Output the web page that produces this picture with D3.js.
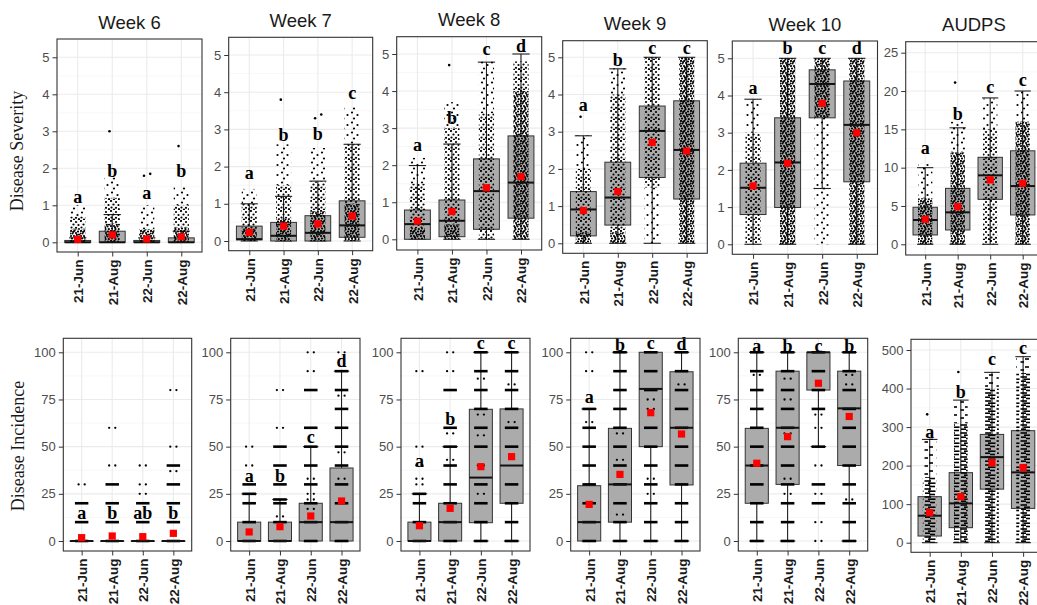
<!DOCTYPE html>
<html>
<head>
<meta charset="utf-8">
<script src="https://cdn.jsdelivr.net/npm/d3@7"></script>
<style>
  body { margin: 0; background: #fff; }
  svg { display: block; }
</style>
</head>
<body>
<div id="chart"></div>
<script>
// panels and groups
const weeks = ["Week 6", "Week 7", "Week 8", "Week 9", "Week 10", "AUDPS"];
const groups = ["21-Jun", "21-Aug", "22-Jun", "22-Aug"];

// tick labels
const dsTicks = [0, 1, 2, 3, 4, 5];
const dsAudpsTicks = [0, 5, 10, 15, 20, 25];
const diTicks = [0, 25, 50, 75, 100];
const diAudpsTicks = [0, 100, 200, 300, 400, 500];

// Disease Severity, [panel][group]
const dsQ1 = [[0, 0, 0, 0], [0.03, 0, 0, 0.1], [0, 0.07, 0.27, 0.57], [0.2, 0.49, 1.77, 1.19], [0.8, 0.99, 3.4, 1.68], [1.22, 1.87, 5.87, 3.83]];
const dsMed = [[0, 0, 0, 0], [0.05, 0.14, 0.22, 0.42], [0.41, 0.5, 1.3, 1.53], [0.91, 1.23, 3.02, 2.51], [1.52, 2.2, 4.31, 3.21], [3.17, 4.17, 9.0, 7.6]];
const dsQ3 = [[0.05, 0.3, 0.05, 0.12], [0.4, 0.5, 0.68, 1.08], [0.79, 1.06, 2.17, 2.79], [1.39, 2.18, 3.69, 3.83], [2.18, 3.4, 4.69, 4.39], [4.83, 7.3, 11.35, 12.2]];
const dsLo = [[0, 0, 0, 0], [0, 0, 0, 0], [0, 0, 0, 0], [0, 0, 0, 0], [0, 0, 1.5, 0], [0, 0, 0, 0]];
const dsHi = [[0.12, 0.75, 0.12, 0.3], [1.0, 1.2, 1.61, 2.6], [1.99, 2.57, 4.78, 5.0], [2.89, 4.69, 5, 5], [3.9, 5, 5, 5], [10.0, 15.2, 19.1, 20.0]];
const dsMean = [[0.08, 0.2, 0.09, 0.15], [0.23, 0.4, 0.46, 0.67], [0.49, 0.75, 1.39, 1.69], [0.88, 1.39, 2.71, 2.48], [1.57, 2.18, 3.79, 3.0], [3.26, 4.9, 8.4, 7.96]];
const dsLetter = [["a", "b", "a", "b"], ["a", "b", "b", "c"], ["a", "b", "c", "d"], ["a", "b", "c", "c"], ["a", "b", "c", "d"], ["a", "b", "c", "c"]];
const dsLetterY = [[1.05, 1.77, 1.16, 1.76], [1.67, 2.7, 2.72, 3.82], [2.39, 3.11, 4.97, 5.06], [3.56, 4.77, 5.1, 5.1], [4.04, 5.12, 5.12, 5.12], [11.8, 16.2, 19.8, 20.65]];
// jittered observations: [from, to, density 1-3]
const dsCloud = [
  [[[0, 0.35, 3], [0.35, 0.7, 2], [0.7, 1.0, 1]], [[0, 0.5, 3], [0.5, 1.2, 2], [1.2, 1.75, 1]], [[0, 0.35, 3], [0.35, 1.0, 1]], [[0, 0.4, 3], [0.4, 1.0, 2], [1.0, 1.5, 1]]],
  [[[0, 0.3, 3], [0.3, 1.0, 2], [1.0, 1.4, 1]], [[0, 0.6, 3], [0.6, 1.5, 2], [1.5, 2.6, 1]], [[0, 0.8, 3], [0.8, 1.6, 2], [1.6, 2.5, 1]], [[0, 1.0, 3], [1.0, 2.6, 2], [2.6, 3.6, 1]]],
  [[[0, 0.3, 3], [0.3, 1.5, 2], [1.5, 2.2, 1]], [[0, 0.4, 3], [0.4, 3.0, 2], [3.0, 3.7, 1]], [[0, 3.4, 2], [3.4, 4.8, 1]], [[0, 4.0, 3], [4.0, 4.8, 2]]],
  [[[0, 0.3, 3], [0.3, 2.0, 2], [2.0, 2.9, 1]], [[0, 0.3, 3], [0.3, 4.0, 2], [4.0, 4.7, 1]], [[0, 1.5, 1], [1.5, 5, 2]], [[0, 5, 3]]],
  [[[0, 3.0, 2], [3.0, 3.9, 1]], [[0, 5, 3]], [[0, 3.4, 1], [3.4, 5, 3]], [[0, 5, 3]]],
  [[[0, 6, 3], [6, 10.5, 1]], [[0, 12, 3], [12, 16, 1]], [[0, 15, 2], [15, 19, 1]], [[0, 16, 3], [16, 20, 1]]]
];
const dsOut = [[[], [3.0], [1.8, 1.85], [2.6]], [[], [3.8], [3.3, 3.4], []], [[], [4.7], [], []], [[3.4], [], [], []], [[], [], [], []], [[], [21.1], [], []]];

// Disease Incidence, [panel][group]
const diQ1 = [[0, 0, 0, 0], [0, 0, 0, 0], [0, 0, 9.7, 20], [0, 10, 50, 29.7], [20, 30, 80, 40], [17.3, 39, 139, 89]];
const diMed = [[0, 0, 0, 0], [0, 0, 10, 10], [0, 10, 33.6, 40], [10, 30, 80.6, 60], [40, 60, 100, 70.3], [70, 102, 222, 182.5]];
const diQ3 = [[0, 0, 0, 0], [10, 10, 20, 38.7], [10, 20, 69.8, 70], [29.3, 59.7, 100, 89.7], [59.7, 90, 100, 90], [119.4, 181.7, 281, 290.7]];
const diLo = [[0, 0, 0, 0], [0, 0, 0, 0], [0, 0, 0, 0], [0, 0, 0, 0], [0, 0, 50, 0], [0, 0, 0, 0]];
const diHi = [[0, 0, 0, 0], [25, 22, 50, 90], [25, 50, 100, 100], [70, 100, 100, 100], [100, 100, 100, 100], [268, 370, 442, 482.7]];
const diMean = [[1.77, 2.65, 2.3, 4.06], [4.8, 7.6, 13.25, 21.2], [8.1, 17.3, 39.4, 44.7], [19.4, 35.3, 68, 56.7], [41.2, 55.3, 83.6, 66], [77.9, 119.4, 207.6, 194.6]];
const diLetter = [["a", "b", "ab", "b"], ["a", "b", "c", "d"], ["a", "b", "c", "c"], ["a", "b", "c", "d"], ["a", "b", "c", "b"], ["a", "b", "c", "c"]];
const diLetterY = [[11.5, 11.7, 11.7, 11.7], [31.4, 31.4, 51.8, 92.4], [39.4, 61.5, 101.6, 101.6], [73, 100.9, 101.6, 101.2], [100.4, 100.4, 100.4, 100.4], [270.8, 374.6, 461, 489.6]];
// observed incidence values: [value, 1 = few points, 2 = many points]
const diLevels = [
  [[[0, 2], [10, 2], [20, 2], [30, 1]],
   [[0, 2], [10, 2], [20, 2], [30, 2], [40, 1], [60, 1]],
   [[0, 2], [10, 2], [20, 2], [25, 1], [30, 1], [40, 1]],
   [[0, 2], [10, 2], [20, 2], [30, 2], [37, 1], [40, 2], [50, 1], [80, 1]]],
  [[[0, 2], [10, 2], [20, 2], [25, 2], [30, 2], [40, 1], [50, 1]],
   [[0, 2], [10, 2], [13, 1], [20, 2], [22, 2], [30, 2], [40, 2], [50, 2], [60, 1], [80, 1]],
   [[0, 2], [10, 2], [17, 1], [20, 2], [22, 1], [25, 1], [30, 2], [33, 1], [40, 2], [50, 2], [60, 2], [80, 2], [90, 1], [100, 1]],
   [[0, 2], [10, 2], [20, 2], [30, 2], [33, 1], [40, 2], [47, 1], [50, 2], [60, 2], [70, 2], [77, 1], [80, 2], [90, 2], [100, 1]]],
  [[[0, 2], [10, 2], [20, 2], [25, 2], [30, 1], [33, 1], [40, 1], [50, 1], [90, 1]],
   [[0, 2], [10, 2], [20, 2], [30, 2], [40, 2], [43, 1], [50, 2], [57, 1], [60, 2], [80, 2], [90, 1], [100, 1]],
   [[0, 2], [10, 2], [20, 2], [25, 1], [30, 2], [40, 1], [50, 2], [56, 1], [60, 2], [67, 1], [70, 2], [80, 2], [86, 1], [90, 2], [100, 2]],
   [[0, 2], [10, 2], [20, 2], [30, 2], [50, 2], [60, 2], [63, 1], [70, 2], [80, 2], [83, 1], [90, 2], [100, 2]]],
  [[[0, 2], [10, 2], [20, 2], [30, 2], [40, 2], [50, 2], [60, 2], [63, 1], [70, 2], [90, 1], [100, 1]],
   [[0, 2], [10, 2], [14, 1], [20, 2], [30, 2], [40, 2], [43, 1], [50, 2], [57, 1], [60, 2], [70, 2], [80, 2], [90, 2], [100, 2]],
   [[0, 2], [10, 2], [20, 2], [25, 1], [30, 2], [33, 1], [40, 2], [50, 2], [60, 2], [70, 1], [75, 1], [80, 2], [90, 2], [100, 2]],
   [[0, 2], [10, 2], [20, 2], [30, 2], [40, 2], [50, 2], [60, 2], [70, 2], [80, 2], [83, 1], [90, 2], [100, 2]]],
  [[[0, 2], [10, 2], [20, 2], [30, 2], [40, 2], [50, 2], [60, 2], [70, 2], [80, 2], [88, 1], [90, 2], [100, 2]],
   [[0, 2], [10, 2], [20, 2], [25, 1], [30, 2], [33, 1], [40, 2], [50, 2], [57, 1], [60, 2], [70, 2], [75, 1], [80, 2], [86, 1], [90, 2], [100, 2]],
   [[0, 1], [10, 1], [20, 2], [25, 1], [30, 2], [40, 1], [50, 2], [60, 1], [67, 1], [70, 2], [80, 2], [90, 2], [100, 2]],
   [[0, 2], [10, 2], [20, 2], [22, 1], [30, 2], [40, 2], [50, 2], [60, 2], [70, 2], [80, 2], [83, 1], [88, 1], [90, 2], [100, 2]]],
  [[], [], [], []]
];
// AUDPS incidence observations
const diAudpsCloud = [[[0, 170, 3], [170, 270, 1]], [[0, 310, 3], [310, 370, 1]], [[0, 400, 3], [400, 442, 1]], [[0, 440, 3], [440, 482, 1]]];
const diAudpsOut = [[333], [443], [], []];

// layout of the 12 panels (pixels)
const topPanels = [
  { L: 57, R: 202, T: 39, B: 252, y0: 242.3, yM: 57.3 },
  { L: 228.7, R: 372.7, T: 37.3, B: 250.7, y0: 241, yM: 55 },
  { L: 396.7, R: 541.7, T: 36.7, B: 250, y0: 239.3, yM: 54 },
  { L: 562.7, R: 707.3, T: 40.7, B: 253.3, y0: 243.3, yM: 57.3 },
  { L: 732.3, R: 877.5, T: 41, B: 254.3, y0: 244.3, yM: 58.3 },
  { L: 905.7, R: 1042.2, T: 41.7, B: 255, y0: 244.3, yM: 52.7 }
];
const botPanels = [
  { L: 63.3, R: 191.7, T: 338.3, B: 551, y0: 541, yM: 352.3 },
  { L: 230.7, R: 360, T: 338.3, B: 551, y0: 541, yM: 352.3 },
  { L: 401, R: 530, T: 338.3, B: 551, y0: 541, yM: 352.3 },
  { L: 570.7, R: 700, T: 338.3, B: 551, y0: 541, yM: 352.3 },
  { L: 738.3, R: 867.7, T: 338.3, B: 551, y0: 541, yM: 352.3 },
  { L: 911, R: 1041.8, T: 339.3, B: 552.3, y0: 542.7, yM: 350 }
];

const sans = "'Liberation Sans', Arial, sans-serif";
const serif = "'Liberation Serif', 'Times New Roman', serif";
const jw = 0.22;          // jitter half width, share of a category step
const outOff = [-0.08, 0.1, -0.02, 0.06];

const svg = d3.select("#chart").append("svg").attr("width", 1037).attr("height", 605);
const defs = svg.append("defs");

// stipple textures for the jittered points
const dotTiles = {
  1: [[2, 2.5], [7.5, 5], [4, 8.5]],
  2: [[1, 1], [6, 2], [3.5, 4.5], [8.5, 5], [1.5, 7.5], [6, 7.8], [9, 9.2], [4, 9.5]],
  3: [[1, 1], [4.5, 0.8], [8, 1.5], [2.5, 3.5], [6, 3], [9, 4.5], [1, 6], [4, 6], [7.5, 6.5], [2, 8.5], [5.5, 9], [8.8, 9], [3.2, 1.9], [6.8, 4.8], [0.3, 3.5], [5, 7.4]]
};
Object.entries(dotTiles).forEach(([k, pts]) => {
  const pat = defs.append("pattern").attr("id", "dots" + k)
    .attr("patternUnits", "userSpaceOnUse").attr("width", 10).attr("height", 10);
  pts.forEach(p => pat.append("circle").attr("cx", p[0]).attr("cy", p[1]).attr("r", 1.1).attr("fill", "#000"));
});
const dashTiles = {
  1: [[0.5, 4, 2], [5, 9, 7]],
  3: [[0.5, 7, 1], [4, 11.5, 3.2], [1, 6, 5.2], [6, 11, 6.5]]
};
Object.entries(dashTiles).forEach(([k, segs]) => {
  const pat = defs.append("pattern").attr("id", "dash" + k)
    .attr("patternUnits", "userSpaceOnUse").attr("width", 12).attr("height", 8);
  segs.forEach(s => pat.append("line").attr("x1", s[0]).attr("x2", s[1]).attr("y1", s[2]).attr("y2", s[2])
    .attr("stroke", "#000").attr("stroke-width", 1.6));
});

function drawPanel(p, ticks, st, i, title) {
  const g = svg.append("g");
  const x = d3.scalePoint().domain(groups).range([p.L, p.R]).padding(0.6);
  const step = x.step();
  const y = d3.scaleLinear().domain([0, ticks[ticks.length - 1]]).range([p.y0, p.yM]);
  const minor = d3.pairs(ticks).map(([a, b]) => (a + b) / 2);

  // background grid
  g.append("rect").attr("x", p.L).attr("y", p.T).attr("width", p.R - p.L).attr("height", p.B - p.T).attr("fill", "#fff");
  g.selectAll(".mn").data(minor).join("line")
    .attr("x1", p.L).attr("x2", p.R).attr("y1", d => y(d)).attr("y2", d => y(d))
    .attr("stroke", "#F2F2F2").attr("stroke-width", 0.6);
  g.selectAll(".mj").data(ticks).join("line")
    .attr("x1", p.L).attr("x2", p.R).attr("y1", d => y(d)).attr("y2", d => y(d))
    .attr("stroke", "#EBEBEB").attr("stroke-width", 1.1);
  g.selectAll(".vj").data(groups).join("line")
    .attr("x1", d => x(d)).attr("x2", d => x(d)).attr("y1", p.T).attr("y2", p.B)
    .attr("stroke", "#EBEBEB").attr("stroke-width", 1.1);

  groups.forEach((grp, j) => {
    const cx = x(grp);
    const bw = 0.375 * step, ew = 0.25 * step;
    // whiskers with end bars
    g.append("line").attr("x1", cx).attr("x2", cx).attr("y1", y(st.lo[i][j])).attr("y2", y(st.hi[i][j]))
      .attr("stroke", "#222").attr("stroke-width", 1.1);
    [st.lo[i][j], st.hi[i][j]].forEach(v => g.append("line")
      .attr("x1", cx - ew).attr("x2", cx + ew).attr("y1", y(v)).attr("y2", y(v))
      .attr("stroke", "#222").attr("stroke-width", 1.1));
    // box
    g.append("rect").attr("x", cx - bw).attr("width", 2 * bw)
      .attr("y", y(st.q3[i][j])).attr("height", Math.max(0.5, y(st.q1[i][j]) - y(st.q3[i][j])))
      .attr("fill", "#ABABAB").attr("stroke", "#333").attr("stroke-width", 1);

    // jittered observations
    if (st.cloud) {
      st.cloud[i][j].forEach(([a, b, dn]) => g.append("rect")
        .attr("x", cx - jw * step).attr("width", 2 * jw * step)
        .attr("y", y(b)).attr("height", y(a) - y(b))
        .attr("fill", `url(#${st.tex}${st.tex === "dash" && dn < 3 ? 1 : dn})`));
      st.out[i][j].forEach((v, k) => g.append("circle")
        .attr("cx", cx + outOff[k % 4] * step).attr("cy", y(v)).attr("r", 1.3).attr("fill", "#000"));
    } else {
      st.levels[i][j].forEach(([v, w]) => {
        if (w === 2) {
          g.append("line").attr("x1", cx - jw * step).attr("x2", cx + jw * step)
            .attr("y1", y(v)).attr("y2", y(v)).attr("stroke", "#000").attr("stroke-width", 2.6);
        } else {
          [-0.1, 0.1].forEach(o => g.append("circle").attr("cx", cx + o * step).attr("cy", y(v))
            .attr("r", 1.15).attr("fill", "#000"));
        }
      });
    }

    // median
    g.append("line").attr("x1", cx - bw).attr("x2", cx + bw)
      .attr("y1", y(st.med[i][j])).attr("y2", y(st.med[i][j]))
      .attr("stroke", "#111").attr("stroke-width", 2);
    // mean
    g.append("rect").attr("x", cx - 3.6).attr("y", y(st.mean[i][j]) - 3.6)
      .attr("width", 7.2).attr("height", 7.2).attr("fill", "#FF0000");
    // letter
    g.append("text").attr("x", cx).attr("y", y(st.letterY[i][j]))
      .attr("text-anchor", "middle").attr("font-family", serif).attr("font-weight", "bold")
      .attr("font-size", 18).attr("fill", "#000").text(st.letter[i][j]);
  });

  // border
  g.append("rect").attr("x", p.L).attr("y", p.T).attr("width", p.R - p.L).attr("height", p.B - p.T)
    .attr("fill", "none").attr("stroke", "#333").attr("stroke-width", 1.1);

  // axes
  const ya = g.append("g").attr("transform", `translate(${p.L},0)`)
    .call(d3.axisLeft(y).tickValues(ticks).tickFormat(d3.format("d")).tickSize(4.5).tickPadding(3));
  ya.select(".domain").remove();
  ya.selectAll("line").attr("stroke", "#333");
  ya.selectAll("text").attr("font-family", sans).attr("font-size", 13).attr("fill", "#4D4D4D");

  const xa = g.append("g").attr("transform", `translate(0,${p.B})`)
    .call(d3.axisBottom(x).tickSize(4.5));
  xa.select(".domain").remove();
  xa.selectAll("line").attr("stroke", "#333");
  xa.selectAll("text").attr("transform", "rotate(-90)").attr("x", -7.5).attr("y", 0).attr("dy", "0.36em")
    .attr("text-anchor", "end").attr("font-family", sans).attr("font-weight", "bold")
    .attr("font-size", 13.5).attr("fill", "#1A1A1A");

  if (title) {
    g.append("text").attr("x", (p.L + p.R) / 2).attr("y", p.T - 10.5)
      .attr("text-anchor", "middle").attr("font-family", sans).attr("font-size", 18.5)
      .attr("fill", "#1A1A1A").text(title);
  }
}

const ds = { q1: dsQ1, med: dsMed, q3: dsQ3, lo: dsLo, hi: dsHi, mean: dsMean, letter: dsLetter, letterY: dsLetterY, cloud: dsCloud, out: dsOut, tex: "dots" };
const di = { q1: diQ1, med: diMed, q3: diQ3, lo: diLo, hi: diHi, mean: diMean, letter: diLetter, letterY: diLetterY, levels: diLevels };
const diAudps = Object.assign({}, di, { cloud: [[], [], [], [], [], diAudpsCloud], out: [[], [], [], [], [], diAudpsOut], tex: "dash" });

weeks.forEach((w, i) => {
  drawPanel(topPanels[i], i === 5 ? dsAudpsTicks : dsTicks, ds, i, w);
  drawPanel(botPanels[i], i === 5 ? diAudpsTicks : diTicks, i === 5 ? diAudps : di, i, null);
});

// y axis titles
svg.append("text").attr("transform", "translate(23,151) rotate(-90)")
  .attr("text-anchor", "middle").attr("font-family", serif).attr("font-size", 18)
  .attr("fill", "#1A1A1A").text("Disease Severity");
svg.append("text").attr("transform", "translate(24,446) rotate(-90)")
  .attr("text-anchor", "middle").attr("font-family", serif).attr("font-size", 18)
  .attr("fill", "#1A1A1A").text("Disease Incidence");
</script>
</body>
</html>
